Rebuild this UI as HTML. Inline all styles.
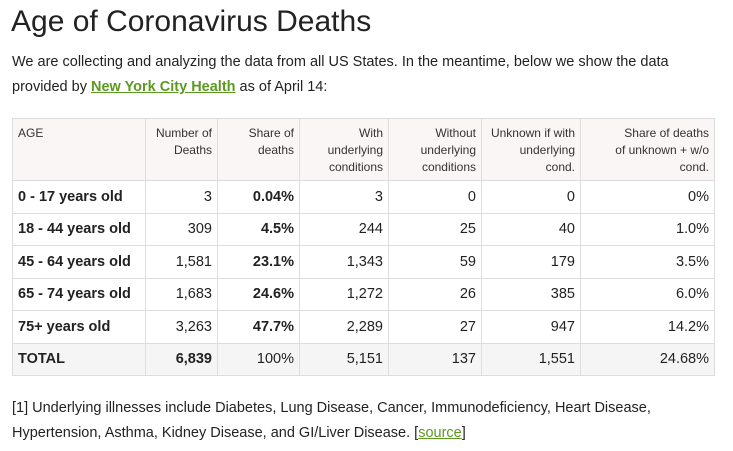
<!DOCTYPE html>
<html><head><meta charset="utf-8"><style>
body{margin:0;background:#fff;font-family:"Liberation Sans",Arial,sans-serif;color:#222;width:733px;height:451px;overflow:hidden;position:relative}
h1{position:absolute;left:11px;top:5px;margin:0;font-weight:normal;font-size:30px;color:#222}
.p{position:absolute;left:12px;font-size:14.5px;color:#222;white-space:nowrap}
a{color:#5b9a1e;font-weight:bold;text-decoration:underline}
table{position:absolute;left:12px;top:118px;border-collapse:collapse;table-layout:fixed;width:702px}
td,th{border:1px solid #ddd;padding:0 5px;text-align:right;font-size:14.5px;height:32.5px;box-sizing:border-box}
th{font-weight:normal;font-size:12px;line-height:17px;vertical-align:top;padding-top:6px;background:#f9f6f5;height:62px;color:#333}
th.last{padding-left:5px}
th.last span{display:inline-block;width:100px;text-align:right}
td:first-child,th:first-child{text-align:left}
td:first-child{font-weight:bold}
tr.t td{background:#f5f5f5}
b{font-weight:bold}
</style></head><body>
<h1>Age of Coronavirus Deaths</h1>
<div class="p" style="top:54px">We are collecting and analyzing the data from all US States. In the meantime, below we show the data</div>
<div class="p" style="top:79px">provided by <a>New York City Health</a> as of April 14:</div>
<table>
<colgroup><col style="width:133px"><col style="width:72px"><col style="width:82px"><col style="width:89px"><col style="width:93px"><col style="width:99px"><col style="width:134px"></colgroup>
<tr><th>AGE</th><th>Number of Deaths</th><th>Share of deaths</th><th>With underlying conditions</th><th>Without underlying conditions</th><th>Unknown if with underlying cond.</th><th class="last">Share of deaths<br>of unknown + w/o<br>cond.</th></tr>
<tr><td>0 - 17 years old</td><td>3</td><td><b>0.04%</b></td><td>3</td><td>0</td><td>0</td><td>0%</td></tr>
<tr><td>18 - 44 years old</td><td>309</td><td><b>4.5%</b></td><td>244</td><td>25</td><td>40</td><td>1.0%</td></tr>
<tr><td>45 - 64 years old</td><td>1,581</td><td><b>23.1%</b></td><td>1,343</td><td>59</td><td>179</td><td>3.5%</td></tr>
<tr><td>65 - 74 years old</td><td>1,683</td><td><b>24.6%</b></td><td>1,272</td><td>26</td><td>385</td><td>6.0%</td></tr>
<tr><td>75+ years old</td><td>3,263</td><td><b>47.7%</b></td><td>2,289</td><td>27</td><td>947</td><td>14.2%</td></tr>
<tr class="t"><td>TOTAL</td><td><b>6,839</b></td><td>100%</td><td>5,151</td><td>137</td><td>1,551</td><td>24.68%</td></tr>
</table>
<div class="p" style="top:400px">[1] Underlying illnesses include Diabetes, Lung Disease, Cancer, Immunodeficiency, Heart Disease,</div>
<div class="p" style="top:425px">Hypertension, Asthma, Kidney Disease, and GI/Liver Disease. [<a style="font-weight:normal">source</a>]</div>
</body></html>
